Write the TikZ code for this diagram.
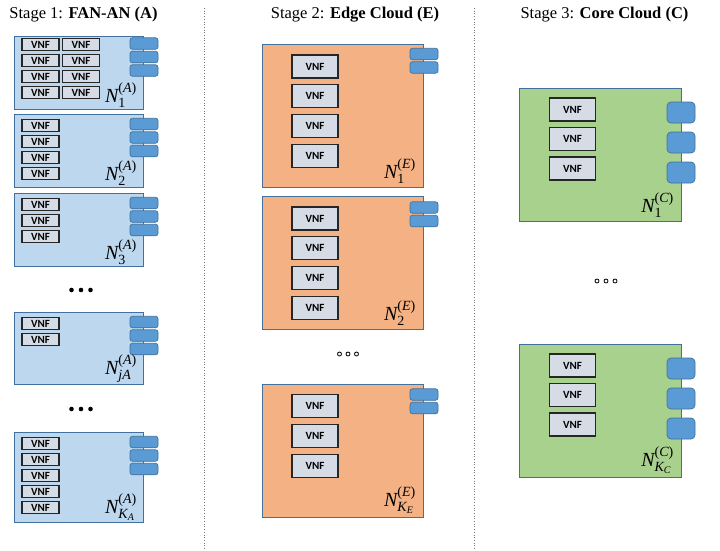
\documentclass[tikz,border=0pt]{standalone}
\usepackage{amsmath}
\usepackage{fontspec}
\setmainfont{Liberation Serif}
\newfontfamily\vnffont{Carlito}
\usetikzlibrary{positioning}
\definecolor{NfvBlueFill}{RGB}{189,215,238}
\definecolor{NfvOrangeFill}{RGB}{244,177,131}
\definecolor{NfvGreenFill}{RGB}{169,209,142}
\definecolor{NfvEdge}{RGB}{65,113,156}
\definecolor{NfvPort}{RGB}{91,155,213}
\definecolor{NfvVnfFill}{RGB}{214,220,229}
\definecolor{NfvDivider}{RGB}{120,120,120}
\tikzset{
  nfv/host/.style={
    draw=NfvEdge,
    line width=0.8pt,
    inner sep=0pt,
    outer sep=0pt
  },
  nfv/hostA/.style={nfv/host, fill=NfvBlueFill, minimum width=129pt},
  nfv/hostE/.style={nfv/host, fill=NfvOrangeFill, minimum width=161pt, minimum height=133pt},
  nfv/hostC/.style={nfv/host, fill=NfvGreenFill, minimum width=162pt, minimum height=133pt},
  nfv/vnf/.style={
    draw=black!85,
    line width=1.1pt,
    fill=NfvVnfFill,
    inner sep=0pt,
    font=\vnffont\bfseries\fontsize{11}{12}\selectfont
  },
  nfv/vnfS/.style={nfv/vnf, minimum width=37pt, minimum height=11.5pt},
  nfv/vnfL/.style={nfv/vnf, minimum width=46pt, minimum height=23pt},
  nfv/port/.style={
    draw=NfvEdge,
    line width=0.7pt,
    fill=NfvPort,
    inner sep=0pt,
    minimum width=28pt
  },
  nfv/portS/.style={nfv/port, rounded corners=2.5pt, minimum height=11.5pt},
  nfv/portL/.style={nfv/port, rounded corners=4pt, minimum height=21pt},
  nfv/label/.style={anchor=south east, inner sep=0pt, font=\fontsize{20}{22}\selectfont},
  nfv/title/.style={anchor=base, inner sep=0pt, font=\fontsize{16.5}{18}\selectfont},
  nfv/divider/.style={draw=NfvDivider, line width=0.7pt, dotted}
}

\begin{document}
\begin{tikzpicture}[x=1pt,y=-1pt]
  \useasboundingbox (0,0) rectangle (720,550);

  % stage titles and dividers
  \node[nfv/title] (titleA) at (83.5,18) {Stage 1: \textbf{FAN-AN (A)}};
  \node[nfv/title] (titleE) at (355,18) {Stage 2: \textbf{Edge Cloud (E)}};
  \node[nfv/title] (titleC) at (604.5,18) {Stage 3: \textbf{Core Cloud (C)}};
  \coordinate (divA) at (204,8);
  \coordinate (divAend) at (204,550);
  \coordinate (divE) at (474,8);
  \coordinate (divEend) at (474,550);
  \draw[nfv/divider] (divA) -- (divAend);
  \draw[nfv/divider] (divE) -- (divEend);

  % stage 1: FAN-AN hosts
  \node[nfv/hostA,minimum height=73pt] (a1) at (78.5,72.5) {};
  \node[nfv/hostA,minimum height=73pt] (a2) at (78.5,150.5) {};
  \node[nfv/hostA,minimum height=73pt] (a3) at (78.5,229.5) {};
  \node[nfv/hostA,minimum height=72pt] (aj) at (78.5,348) {};
  \node[nfv/hostA,minimum height=90pt] (ak) at (78.5,477) {};

  \foreach \i in {1,...,4} {
    \node[nfv/vnfS] (a1-v\i) at (40.5,{28.5+16*\i}) {VNF};
    \node[nfv/vnfS] (a1-w\i) at (81,{28.5+16*\i}) {VNF};
    \node[nfv/vnfS] (a2-v\i) at (40.5,{109.5+16*\i}) {VNF};
  }
  \foreach \i in {1,...,3}
    \node[nfv/vnfS] (a3-v\i) at (40.5,{188.5+16*\i}) {VNF};
  \foreach \i in {1,2}
    \node[nfv/vnfS] (aj-v\i) at (40.5,{307.5+16*\i}) {VNF};
  \foreach \i in {1,...,5}
    \node[nfv/vnfS] (ak-v\i) at (40.5,{427.5+16*\i}) {VNF};

  \foreach \host/\top in {a1/30, a2/110.5, a3/189.5, aj/308.5, ak/428.5}
    \foreach \i in {1,2,3}
      \node[nfv/portS] (\host-p\i) at (144,{\top+13.5*\i}) {};

  \node[nfv/label] (a1-lab) at ([shift={(-6,-1)}]a1.south east) {$\textit{N}^{\textup{(}\textit{A}\textup{)}}_{\textup{1}}$};
  \node[nfv/label] (a2-lab) at ([shift={(-6,-1)}]a2.south east) {$\textit{N}^{\textup{(}\textit{A}\textup{)}}_{\textup{2}}$};
  \node[nfv/label] (a3-lab) at ([shift={(-6,-1)}]a3.south east) {$\textit{N}^{\textup{(}\textit{A}\textup{)}}_{\textup{3}}$};
  \node[nfv/label] (aj-lab) at ([shift={(-6,-1)}]aj.south east) {$\textit{N}^{\textup{(}\textit{A}\textup{)}}_{\textit{jA}}$};
  \node[nfv/label] (ak-lab) at ([shift={(-6,-1)}]ak.south east) {$\textit{N}^{\textup{(}\textit{A}\textup{)}}_{\textit{K}_{\textit{A}}}$};

  \foreach \y in {290,409}
    \foreach \x in {71.5,81,90.5}
      \fill (\x,\y) circle[radius=2.3];

  % stage 2: edge cloud hosts
  \node[nfv/hostE,minimum height=143pt] (e1) at (342.5,115.5) {};
  \node[nfv/hostE] (e2) at (342.5,262.5) {};
  \node[nfv/hostE] (ek) at (342.5,450.5) {};

  \foreach \i in {1,...,4} {
    \node[nfv/vnfL] (e1-v\i) at (315,{36.8+29.7*\i}) {VNF};
    \node[nfv/vnfL] (e2-v\i) at (315,{188.8+29.7*\i}) {VNF};
  }
  \foreach \i in {1,2,3}
    \node[nfv/vnfL] (ek-v\i) at (315,{376+30*\i}) {VNF};

  \foreach \host/\top in {e1/40.5, e2/194, ek/381}
    \foreach \i in {1,2}
      \node[nfv/portS] (\host-p\i) at (424,{\top+13.5*\i}) {};

  \node[nfv/label] (e1-lab) at ([shift={(-7,-3)}]e1.south east) {$\textit{N}^{\textup{(}\textit{E}\textup{)}}_{\textup{1}}$};
  \node[nfv/label] (e2-lab) at ([shift={(-7,-3)}]e2.south east) {$\textit{N}^{\textup{(}\textit{E}\textup{)}}_{\textup{2}}$};
  \node[nfv/label] (ek-lab) at ([shift={(-7,-3)}]ek.south east) {$\textit{N}^{\textup{(}\textit{E}\textup{)}}_{\textit{K}_{\textit{E}}}$};

  \foreach \x in {339.5,348,356.5}
    \draw[line width=0.8pt] (\x,354) circle[radius=2];

  % stage 3: core cloud hosts
  \node[nfv/hostC] (c1) at (600,154.5) {};
  \node[nfv/hostC] (ck) at (600,410.5) {};

  \foreach \host/\top in {c1/88, ck/344} {
    \foreach \i in {1,2,3} {
      \node[nfv/vnfL] (\host-v\i) at (572.5,{\top-8+29.5*\i}) {VNF};
      \node[nfv/portL] (\host-p\i) at (681,{\top-5.5+30*\i}) {};
    }
  }

  \node[nfv/label] (c1-lab) at ([shift={(-7,-3)}]c1.south east) {$\textit{N}^{\textup{(}\textit{C}\textup{)}}_{\textup{1}}$};
  \node[nfv/label] (ck-lab) at ([shift={(-7,-3)}]ck.south east) {$\textit{N}^{\textup{(}\textit{C}\textup{)}}_{\textit{K}_{\textit{C}}}$};

  \foreach \x in {597,606,615}
    \draw[line width=0.8pt] (\x,281) circle[radius=2];
\end{tikzpicture}
\end{document}
